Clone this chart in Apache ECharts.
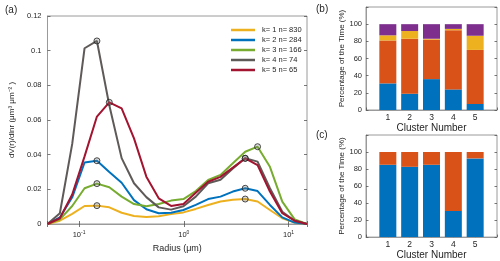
<!DOCTYPE html>
<html>
<head>
<meta charset="utf-8">
<script src="https://cdn.jsdelivr.net/npm/echarts@6/dist/echarts.min.js"></script>
<style>html,body{margin:0;padding:0;background:#fff}#c{width:500px;height:261px}</style>
</head>
<body>
<div id="c"></div>
<script>
// ---- Data ----
const radius = [0.05, 0.065604, 0.086077, 0.112939, 0.148184, 0.194429, 0.255105, 0.334716, 0.439173, 0.576227, 0.756052, 0.991996, 1.301571, 1.707757, 2.240702, 2.939966, 3.857452, 5.061260, 6.640745, 8.713145, 11.432287, 15.0];
const ks = [1, 2, 3, 4, 5];
const ns = [830, 284, 166, 74, 65];
const k1 = [0, 0.0019, 0.0058, 0.0104, 0.0106, 0.0096, 0.0065, 0.0046, 0.0040, 0.0045, 0.0057, 0.0067, 0.0087, 0.0110, 0.0130, 0.0140, 0.0144, 0.0130, 0.0081, 0.0033, 0.0008, 0];
const k2 = [0, 0.0038, 0.0154, 0.0355, 0.0365, 0.0300, 0.0238, 0.0138, 0.0085, 0.0062, 0.0065, 0.0081, 0.0110, 0.0144, 0.0158, 0.0187, 0.0206, 0.0190, 0.0110, 0.0038, 0.0008, 0];
const k3 = [0, 0.0027, 0.0104, 0.0206, 0.0233, 0.0212, 0.0158, 0.0115, 0.0102, 0.0115, 0.0135, 0.0144, 0.0190, 0.0254, 0.0283, 0.0350, 0.0417, 0.0446, 0.0330, 0.0129, 0.0027, 0];
const k4 = [0, 0.0062, 0.0462, 0.1014, 0.1056, 0.0685, 0.0380, 0.0235, 0.0155, 0.0096, 0.0083, 0.0102, 0.0158, 0.0235, 0.0255, 0.0320, 0.0379, 0.0360, 0.0206, 0.0071, 0.0019, 0];
const k5 = [0, 0.0033, 0.0170, 0.0390, 0.0620, 0.0702, 0.0667, 0.0494, 0.0273, 0.0148, 0.0104, 0.0115, 0.0180, 0.0244, 0.0272, 0.0325, 0.0379, 0.0340, 0.0187, 0.0062, 0.0019, 0];
const kSeries = [k1, k2, k3, k4, k5];

const clusters = [1, 2, 3, 4, 5];
const bBlue = [31, 19, 36, 24, 7];
const bOrange = [50, 64, 46, 69, 63];
const bYellow = [6, 9, 1, 1.5, 16.5];
const bPurple = [13, 8, 17, 5.5, 13.5];
const cBlue = [85, 82.6, 85, 30.8, 92.5];
const cOrange = [15, 17.4, 15, 69.2, 7.5];

// ---- Styles ----
const lineColors = ['#EDB120', '#0072BD', '#77AC30', '#5E5A58', '#A2142F'];
const TXT = '#262626';
const AX = '#9a9a9a';
const FONT = 'Liberation Sans, Arial, sans-serif';

const chart = echarts.init(document.getElementById('c'), null, {renderer: 'canvas'});

const names = ks.map((k, i) => 'k= ' + k + ' n= ' + ns[i]);

function peakIdx(arr, lo, hi) {
  let best = -1;
  for (let i = 0; i < radius.length; i++) {
    if (radius[i] >= lo && radius[i] < hi && (best < 0 || arr[i] > arr[best])) best = i;
  }
  return best;
}

const series = [];
kSeries.forEach((arr, i) => {
  series.push({
    name: names[i], type: 'line', xAxisIndex: 0, yAxisIndex: 0,
    data: radius.map((r, j) => [r, arr[j]]),
    showSymbol: false, symbol: 'none',
    lineStyle: {width: 2, color: lineColors[i]},
    itemStyle: {color: lineColors[i]},
    z: 2 + i, silent: true
  });
});
kSeries.forEach((arr, i) => {
  const f = peakIdx(arr, 0, 1), c = peakIdx(arr, 1, 100);
  series.push({
    type: 'scatter', xAxisIndex: 0, yAxisIndex: 0,
    data: [[radius[f], arr[f]], [radius[c], arr[c]]],
    symbol: 'circle', symbolSize: 6,
    itemStyle: {color: 'rgba(120,120,120,0.35)', borderColor: '#222', borderWidth: 1},
    z: 10
  });
});

// category axis 0..6 with clusters in the middle
const barCats = [0].concat(clusters).concat([clusters.length + 1]).map(String);
function barSeries(vals, color, xi, yi, stack) {
  return {
    type: 'bar', xAxisIndex: xi, yAxisIndex: yi, stack: stack,
    data: [null].concat(vals).concat([null]),
    barWidth: 17,
    itemStyle: {color: color}
  };
}
series.push(barSeries(bBlue, '#0072BD', 2, 2, 'b'));
series.push(barSeries(bOrange, '#D95319', 2, 2, 'b'));
series.push(barSeries(bYellow, '#EDB120', 2, 2, 'b'));
series.push(barSeries(bPurple, '#7E2F8E', 2, 2, 'b'));
series.push(barSeries(cBlue, '#0072BD', 3, 4, 'c'));
series.push(barSeries(cOrange, '#D95319', 3, 4, 'c'));

const tickStyle = {show: true, inside: true, length: 3, lineStyle: {color: '#555', width: 0.8}};
const lblStyle = {color: TXT, fontSize: 7.5, fontFamily: FONT};

function logFmt(v) {
  const l = Math.log10(v);
  if (Math.abs(l - Math.round(l)) < 1e-6) return '{b|10}{s|' + Math.round(l) + '}';
  return '';
}

const barX = (gi, nameGap) => ({
  type: 'category', gridIndex: gi, data: barCats, boundaryGap: false,
  name: 'Cluster Number', nameLocation: 'middle', nameGap: nameGap,
  nameTextStyle: {color: TXT, fontSize: 10, fontFamily: FONT},
  axisLine: {show: true, lineStyle: {color: AX}},
  axisTick: {show: true, inside: true, length: 2.5, lineStyle: {color: '#555', width: 0.8}},
  axisLabel: {color: TXT, fontSize: 8.5, fontFamily: FONT, margin: 3, interval: 0,
    formatter: (v, i) => (i >= 1 && i <= clusters.length) ? v : ''},
  splitLine: {show: false}
});
const barY = (gi, nameGap) => ({
  type: 'value', gridIndex: gi, min: 0, max: 120, interval: 20,
  name: 'Percentage of the Time (%)', nameLocation: 'middle', nameGap: nameGap,
  nameTextStyle: {color: TXT, fontSize: 8, fontFamily: FONT},
  axisLine: {show: true, lineStyle: {color: AX}},
  axisTick: {show: true, inside: true, length: 2.5, lineStyle: {color: '#555', width: 0.8}},
  axisLabel: Object.assign({}, lblStyle, {margin: 4, formatter: v => v <= 100 ? String(v) : ''}),
  splitLine: {show: false}
});
const rightTicks = (gi) => ({
  type: 'value', gridIndex: gi, min: 0, max: 120, interval: 20, position: 'right',
  axisLine: {show: false}, axisTick: {show: true, inside: true, length: 2.5, lineStyle: {color: '#555', width: 0.8}},
  axisLabel: {show: false}, splitLine: {show: false}
});

const option = {
  animation: false,
  textStyle: {fontFamily: FONT},
  grid: [
    {left: 43, top: 16, right: 193, bottom: 37, show: true, borderColor: AX, borderWidth: 1},
    {left: 366, top: 7, right: 3, bottom: 151, show: true, borderColor: AX, borderWidth: 1},
    {left: 366, top: 135, right: 3, bottom: 22, show: true, borderColor: AX, borderWidth: 1}
  ],
  legend: {
    data: names, orient: 'vertical', left: 226, top: 21,
    itemWidth: 24, itemHeight: 2.5, itemGap: 2, icon: 'rect',
    textStyle: {color: TXT, fontSize: 7.5, fontFamily: FONT, padding: [0, 0, 0, 2]},
    selectedMode: false
  },
  xAxis: [
    {type: 'log', gridIndex: 0, min: 0.05, max: 15, logBase: 10,
     name: 'Radius (μm)', nameLocation: 'middle', nameGap: 19,
     nameTextStyle: {color: TXT, fontSize: 9, fontFamily: FONT},
     axisLine: {show: true, lineStyle: {color: AX}},
     axisTick: tickStyle,
     axisLabel: {color: TXT, fontSize: 7.5, fontFamily: FONT, margin: 6, formatter: logFmt,
       rich: {b: {fontSize: 7.5, color: TXT, fontFamily: FONT},
              s: {fontSize: 5, color: TXT, fontFamily: FONT, padding: [0, 0, 5, 0]}}},
     splitLine: {show: false}},
    {type: 'log', gridIndex: 0, min: 0.05, max: 15, position: 'top',
     axisLine: {show: false}, axisTick: tickStyle, axisLabel: {show: false}, splitLine: {show: false}},
    barX(1, 10),
    barX(2, 9)
  ],
  yAxis: [
    {type: 'value', gridIndex: 0, min: 0, max: 0.12, interval: 0.02,
     name: 'dV(r)/dlnr (μm³ μm⁻² )', nameLocation: 'middle', nameGap: 24,
     nameTextStyle: {color: TXT, fontSize: 8, fontFamily: FONT},
     axisLine: {show: true, lineStyle: {color: AX}},
     axisTick: tickStyle,
     axisLabel: Object.assign({}, lblStyle, {margin: 6}),
     splitLine: {show: false}},
    {type: 'value', gridIndex: 0, min: 0, max: 0.12, interval: 0.02, position: 'right',
     axisLine: {show: false}, axisTick: tickStyle, axisLabel: {show: false}, splitLine: {show: false}},
    barY(1, 19),
    rightTicks(1),
    barY(2, 19),
    rightTicks(2)
  ],
  graphic: [
    {type: 'text', left: 5, top: 5, style: {text: '(a)', fontSize: 10, fill: TXT, fontFamily: FONT}},
    {type: 'text', left: 316, top: 4, style: {text: '(b)', fontSize: 10, fill: TXT, fontFamily: FONT}},
    {type: 'text', left: 316, top: 130, style: {text: '(c)', fontSize: 10, fill: TXT, fontFamily: FONT}}
  ],
  series: series
};
chart.setOption(option);
</script>
</body>
</html>
